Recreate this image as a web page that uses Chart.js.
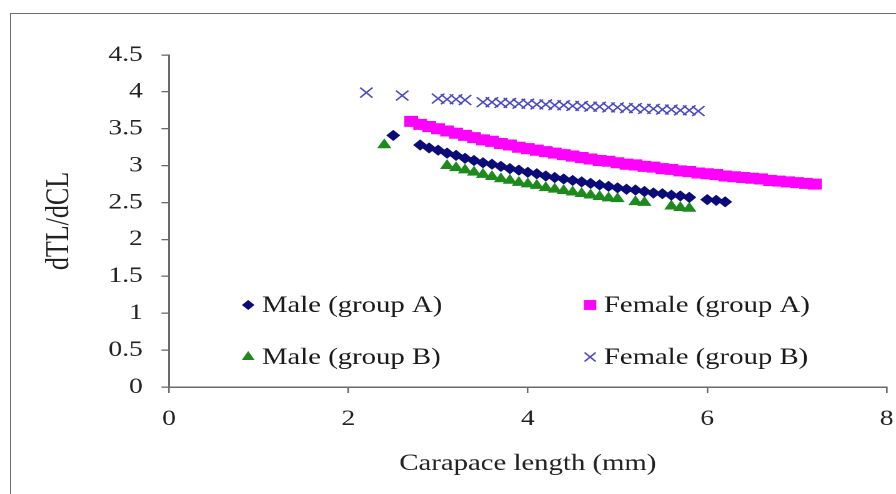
<!DOCTYPE html>
<html>
<head>
<meta charset="utf-8">
<script src="https://cdn.jsdelivr.net/npm/chart.js@4.4.0/dist/chart.umd.min.js"></script>
<style>
  html, body { margin: 0; padding: 0; background: #ffffff; overflow: hidden; width: 896px; height: 494px; }
  #frame { position: absolute; left: 10px; top: 13px; width: 900px; height: 500px; border: 1.5px solid #6e6e6e; box-sizing: border-box; }
  #wrap { position: absolute; left: 0; top: 0; width: 728px; height: 494px; transform: scaleX(1.2497); transform-origin: 0 0; }
</style>
</head>
<body>
<div id="frame"></div>
<div id="wrap"><canvas id="c"></canvas></div>
<script>
// ---- data ----
const maleA_x = [2.5, 2.8, 2.9, 3.0, 3.1, 3.2, 3.3, 3.4, 3.5, 3.6, 3.7, 3.8, 3.9, 4.0, 4.1, 4.2, 4.3, 4.4, 4.5, 4.6, 4.7, 4.8, 4.9, 5.0, 5.1, 5.2, 5.3, 5.4, 5.5, 5.6, 5.7, 5.8, 6.0, 6.1, 6.2];
const maleA_y = [3.41, 3.28, 3.24, 3.21, 3.17, 3.14, 3.10, 3.07, 3.04, 3.02, 2.99, 2.96, 2.94, 2.91, 2.89, 2.86, 2.84, 2.82, 2.80, 2.78, 2.76, 2.74, 2.72, 2.70, 2.68, 2.67, 2.65, 2.63, 2.62, 2.60, 2.59, 2.57, 2.54, 2.53, 2.51];

const femaleA_x = [2.7, 2.8, 2.9, 3.0, 3.1, 3.2, 3.3, 3.4, 3.5, 3.6, 3.7, 3.8, 3.9, 4.0, 4.1, 4.2, 4.3, 4.4, 4.5, 4.6, 4.7, 4.8, 4.9, 5.0, 5.1, 5.2, 5.3, 5.4, 5.5, 5.6, 5.7, 5.8, 5.9, 6.0, 6.1, 6.2, 6.3, 6.4, 6.5, 6.6, 6.7, 6.8, 6.9, 7.0, 7.1, 7.2];
const femaleA_y = [3.60, 3.56, 3.53, 3.50, 3.47, 3.44, 3.41, 3.38, 3.35, 3.33, 3.30, 3.28, 3.25, 3.23, 3.21, 3.19, 3.17, 3.15, 3.13, 3.11, 3.09, 3.07, 3.06, 3.04, 3.02, 3.01, 2.99, 2.98, 2.96, 2.95, 2.93, 2.92, 2.90, 2.89, 2.88, 2.86, 2.85, 2.84, 2.83, 2.82, 2.80, 2.79, 2.78, 2.77, 2.76, 2.75];

const maleB_x = [2.4, 3.1, 3.2, 3.3, 3.4, 3.5, 3.6, 3.7, 3.8, 3.9, 4.0, 4.1, 4.2, 4.3, 4.4, 4.5, 4.6, 4.7, 4.8, 4.9, 5.0, 5.2, 5.3, 5.6, 5.7, 5.8];
const maleB_y = [3.28, 3.00, 2.97, 2.94, 2.91, 2.88, 2.85, 2.82, 2.80, 2.77, 2.75, 2.73, 2.70, 2.68, 2.66, 2.64, 2.62, 2.60, 2.58, 2.56, 2.55, 2.51, 2.50, 2.45, 2.43, 2.42];

const femaleB_x = [2.2, 2.6, 3.0, 3.1, 3.2, 3.3, 3.5, 3.6, 3.7, 3.8, 3.9, 4.0, 4.1, 4.2, 4.3, 4.4, 4.5, 4.6, 4.7, 4.8, 4.9, 5.0, 5.1, 5.2, 5.3, 5.4, 5.5, 5.6, 5.7, 5.8, 5.9];
const femaleB_y = [3.99, 3.95, 3.91, 3.90, 3.90, 3.89, 3.86, 3.86, 3.85, 3.85, 3.84, 3.84, 3.83, 3.83, 3.82, 3.82, 3.81, 3.81, 3.80, 3.80, 3.79, 3.79, 3.78, 3.78, 3.77, 3.77, 3.76, 3.76, 3.75, 3.75, 3.74];

const seriesNames = ['Male (group A)', 'Female (group A)', 'Male (group B)', 'Female (group B)'];
const xTitle = 'Carapace length (mm)';
const yTitle = 'dTL/dCL';
const xMin = 0, xMax = 8, xStep = 2;
const yMin = 0, yMax = 4.5, yStep = 0.5;

// ---- chart ----
const FONT = "'Liberation Serif', 'Times New Roman', serif";
const zip = (xs, ys) => xs.map((x, i) => ({ x: x, y: ys[i] }));

const styles = [
  { pointStyle: 'rectRot', radius: 5.6, bg: '#0a0a78', border: '#0a0a78', bw: 0 },
  { pointStyle: 'rect', radius: 7.8, bg: '#ff00ff', border: '#ff00ff', bw: 0 },
  { pointStyle: 'triangle', radius: 6.6, bg: '#1e8a1e', border: '#1e8a1e', bw: 0 },
  { pointStyle: 'crossRot', radius: 7.0, bg: '#4848c8', border: '#4848c8', bw: 1.4 }
];
const seriesData = [zip(maleA_x, maleA_y), zip(femaleA_x, femaleA_y), zip(maleB_x, maleB_y), zip(femaleB_x, femaleB_y)];

const datasets = seriesNames.map((name, i) => ({
  label: name,
  data: seriesData[i],
  showLine: false,
  pointStyle: styles[i].pointStyle,
  pointRadius: styles[i].radius,
  pointHoverRadius: styles[i].radius,
  pointBackgroundColor: styles[i].bg,
  pointBorderColor: styles[i].border,
  pointBorderWidth: styles[i].bw,
  backgroundColor: styles[i].bg,
  borderColor: styles[i].border
}));

function drawMarker(ctx, st, x, y) {
  ctx.save();
  ctx.fillStyle = st.bg;
  ctx.strokeStyle = st.border;
  ctx.lineWidth = st.bw;
  if (Chart.helpers && Chart.helpers.drawPoint) {
    Chart.helpers.drawPoint(ctx, { pointStyle: st.pointStyle, radius: st.radius * 0.9, borderWidth: st.bw, rotation: 0 }, x, y);
  }
  ctx.restore();
}

const inLegend = {
  id: 'inLegend',
  afterDatasetsDraw(chart) {
    const ctx = chart.ctx;
    const cols = [198.6, 472.2];
    const rows = [305, 357];
    const order = [[0, 1], [2, 3]];
    ctx.save();
    ctx.font = '23px ' + FONT;
    ctx.textBaseline = 'middle';
    ctx.textAlign = 'left';
    for (let r = 0; r < 2; r++) {
      for (let c = 0; c < 2; c++) {
        const idx = order[r][c];
        drawMarker(ctx, styles[idx], cols[c], rows[r]);
        ctx.fillStyle = '#1a1a1a';
        ctx.fillText(seriesNames[idx], cols[c] + 11, rows[r] + 1);
      }
    }
    ctx.restore();
  }
};

new Chart(document.getElementById('c'), {
  type: 'scatter',
  data: { datasets: datasets },
  plugins: [inLegend],
  options: {
    responsive: true,
    maintainAspectRatio: false,
    devicePixelRatio: 2,
    animation: false,
    layout: { padding: { top: 55, right: 7.4, bottom: 10, left: 12 } },
    plugins: { legend: { display: false }, tooltip: { enabled: false } },
    scales: {
      x: {
        type: 'linear', min: xMin, max: xMax,
        ticks: { stepSize: xStep, padding: 13, color: '#222', font: { family: FONT, size: 22 }, maxRotation: 0,
                 callback: (v) => String(v) },
        grid: { display: true, drawOnChartArea: false, drawTicks: true, tickLength: 6, color: '#6a6a6a', lineWidth: 1.3 },
        border: { display: true, color: '#6a6a6a', width: 1.5 },
        title: { display: true, text: xTitle, color: '#222', font: { family: FONT, size: 23 }, padding: { top: 21, bottom: 6 } },
        afterFit(axis) { axis.height = 97; }
      },
      y: {
        type: 'linear', min: yMin, max: yMax,
        ticks: { stepSize: yStep, padding: 15, color: '#222', font: { family: FONT, size: 22 },
                 callback: (v) => String(v) },
        grid: { display: true, drawOnChartArea: false, drawTicks: true, tickLength: 6, color: '#6a6a6a', lineWidth: 1.3 },
        border: { display: true, color: '#6a6a6a', width: 1.5 },
        title: { display: true, text: yTitle, color: '#222', font: { family: FONT, size: 26 }, padding: { top: 20, bottom: 4 } },
        afterFit(axis) { axis.width = 123.2; }
      }
    }
  }
});
</script>
</body>
</html>
